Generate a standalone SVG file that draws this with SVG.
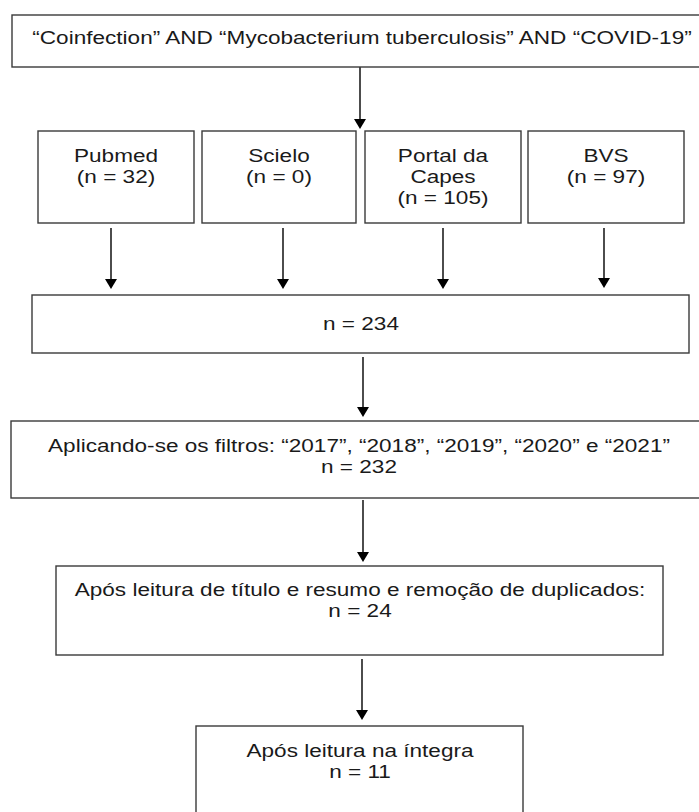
<svg xmlns="http://www.w3.org/2000/svg" width="699" height="812" viewBox="0 0 699 812">
<defs>
<style>
.box{fill:#fff;stroke:#3a3a3a;stroke-width:1.4}
.t{font-family:"Liberation Sans",Arial,sans-serif;font-size:18.5px;fill:#1a1a1a;text-anchor:middle}
.ln{stroke:#000;stroke-width:1.4;fill:none}
.hd{fill:#000}
</style>
</defs>
<rect width="699" height="812" fill="#fff"/>
<g id="connectors">
<line class="ln" x1="360" y1="67" x2="360" y2="119"/>
<path class="hd" d="M354,119 L366,119 L360,129 Z"/>
<line class="ln" x1="111" y1="228" x2="111" y2="279"/>
<path class="hd" d="M105,279 L117,279 L111,289 Z"/>
<line class="ln" x1="283" y1="228" x2="283" y2="279"/>
<path class="hd" d="M277,279 L289,279 L283,289 Z"/>
<line class="ln" x1="443" y1="228" x2="443" y2="279"/>
<path class="hd" d="M437,279 L449,279 L443,289 Z"/>
<line class="ln" x1="604" y1="228" x2="604" y2="278"/>
<path class="hd" d="M598,278 L610,278 L604,288 Z"/>
<line class="ln" x1="363" y1="357" x2="363" y2="407"/>
<path class="hd" d="M357,407 L369,407 L363,417 Z"/>
<line class="ln" x1="363" y1="500" x2="363" y2="552"/>
<path class="hd" d="M357,552 L369,552 L363,562 Z"/>
<line class="ln" x1="362" y1="659" x2="362" y2="710"/>
<path class="hd" d="M356,710 L368,710 L362,720 Z"/>
</g>
<g id="query">
<rect class="box" x="12" y="15" width="700" height="52"/>
<text class="t" transform="translate(362,44) scale(1.22,1)">“Coinfection” AND “Mycobacterium tuberculosis” AND “COVID-19”</text>
</g>
<g id="pubmed">
<rect class="box" x="38" y="131" width="156" height="92"/>
<text class="t" transform="translate(116,162) scale(1.22,1)">Pubmed</text>
<text class="t" transform="translate(116,183) scale(1.22,1)">(n = 32)</text>
</g>
<g id="scielo">
<rect class="box" x="202" y="131" width="154" height="92"/>
<text class="t" transform="translate(279,162) scale(1.22,1)">Scielo</text>
<text class="t" transform="translate(279,183) scale(1.22,1)">(n = 0)</text>
</g>
<g id="capes">
<rect class="box" x="365" y="131" width="156" height="92"/>
<text class="t" transform="translate(443,162) scale(1.22,1)">Portal da</text>
<text class="t" transform="translate(443,183) scale(1.22,1)">Capes</text>
<text class="t" transform="translate(443,204) scale(1.22,1)">(n = 105)</text>
</g>
<g id="bvs">
<rect class="box" x="528" y="131" width="156" height="92"/>
<text class="t" transform="translate(606,162) scale(1.22,1)">BVS</text>
<text class="t" transform="translate(606,183) scale(1.22,1)">(n = 97)</text>
</g>
<g id="total">
<rect class="box" x="32" y="295" width="657" height="58"/>
<text class="t" transform="translate(361,330) scale(1.22,1)">n = 234</text>
</g>
<g id="filters">
<rect class="box" x="11" y="421" width="700" height="77"/>
<text class="t" transform="translate(359,452) scale(1.22,1)">Aplicando-se os filtros: “2017”, “2018”, “2019”, “2020” e “2021”</text>
<text class="t" transform="translate(359,473) scale(1.22,1)">n = 232</text>
</g>
<g id="screening">
<rect class="box" x="56" y="566" width="607" height="89"/>
<text class="t" transform="translate(360,596) scale(1.22,1)">Após leitura de título e resumo e remoção de duplicados:</text>
<text class="t" transform="translate(360,617) scale(1.22,1)">n = 24</text>
</g>
<g id="fulltext">
<rect class="box" x="196" y="726" width="327" height="100"/>
<text class="t" transform="translate(360,757) scale(1.22,1)">Após leitura na íntegra</text>
<text class="t" transform="translate(360,778) scale(1.22,1)">n = 11</text>
</g>
</svg>
